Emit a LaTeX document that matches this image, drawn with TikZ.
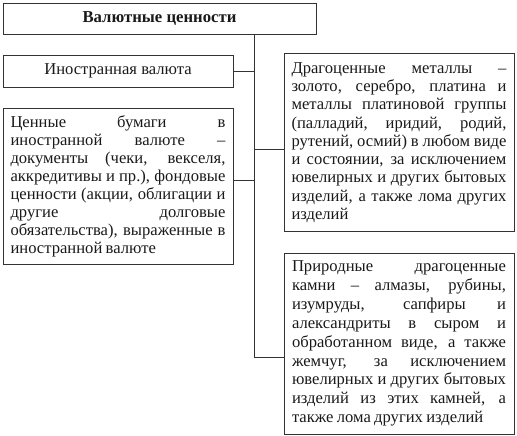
\documentclass[tikz,border=0pt]{standalone}
\usepackage{fontspec}
\setmainfont{Liberation Serif}
\hyphenpenalty=10000
\exhyphenpenalty=10000
\tolerance=10000
\pretolerance=-1
\newcommand\mysp{\spaceskip=0.2em plus 10em minus 0.02em\relax}
\begin{document}
\begin{tikzpicture}[x=1pt,y=-1pt,
  box/.style={draw=black!80, line width=0.9pt, inner sep=0pt, text=black!90,
    font=\fontsize{16.6}{18}\selectfont},
  txt/.style={box, align=justify, execute at begin node={\mysp}},
  conn/.style={draw=black!80, line width=0.8pt}]
\useasboundingbox (0,0) rectangle (517,436);

\node[box, minimum width=313pt, minimum height=31pt, font=\fontsize{16.7}{18}\selectfont\bfseries]
  (title) at (159.5,18.5) {Валютные ценности};

\node[box, minimum width=230pt, minimum height=32pt]
  (valuta) at (118,71) {Иностранная валюта};

\node[txt, minimum width=230pt, minimum height=156pt, text width=215pt,
  font=\fontsize{16.6}{18}\selectfont]
  (secur) at (118,186) {Ценные бумаги в\linebreak
иностранной валюте –\linebreak
документы (чеки, векселя,\linebreak
аккредитивы и пр.), фондовые\linebreak
ценности (акции, облигации и\linebreak
другие долговые\linebreak
обязательства), выраженные в\linebreak
иностранной валюте};

\node[txt, minimum width=230pt, minimum height=178pt, text width=215pt,
  font=\fontsize{16.6}{18.3}\selectfont]
  (metals) at (399,142.5) {Драгоценные металлы –\linebreak
золото, серебро, платина и\linebreak
металлы платиновой группы\linebreak
(палладий, иридий, родий,\linebreak
рутений, осмий) в любом виде\linebreak
и состоянии, за исключением\linebreak
ювелирных и других бытовых\linebreak
изделий, а также лома других\linebreak
изделий};

\node[txt, minimum width=230pt, minimum height=181pt, text width=214pt,
  font=\fontsize{16.6}{18.9}\selectfont]
  (stones) at (399,343.5) {Природные драгоценные\linebreak
камни – алмазы, рубины,\linebreak
изумруды, сапфиры и\linebreak
александриты в сыром и\linebreak
обработанном виде, а также\linebreak
жемчуг, за исключением\linebreak
ювелирных и других бытовых\linebreak
изделий из этих камней, а\linebreak
также лома других изделий};

\coordinate (trunktop) at (title.south -| 254.5,0);
\coordinate (trunkbot) at (254.5,357.5);
\draw[conn] (trunktop) -- (trunkbot);
\draw[conn] (valuta.east) -- (valuta.east -| trunktop);
\draw[conn] (secur.east |- 0,180.7) -- (trunktop |- 0,180.7);
\draw[conn] (metals.west |- 0,149.3) -- (trunktop |- 0,149.3);
\draw[conn] (stones.west |- trunkbot) -- (trunkbot);
\end{tikzpicture}
\end{document}
